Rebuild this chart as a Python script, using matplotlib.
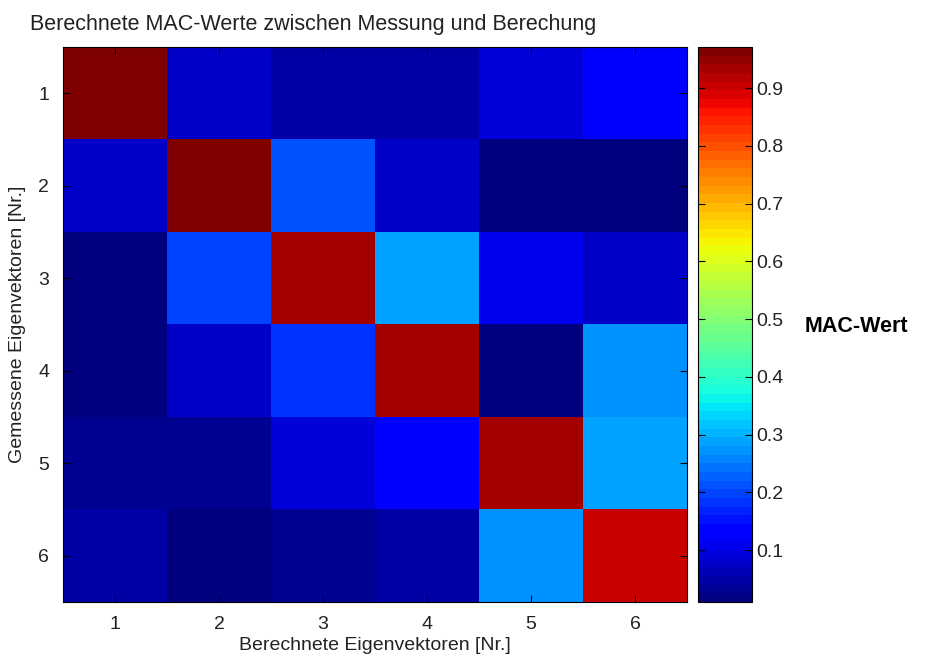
import numpy as np
import matplotlib
matplotlib.use('Agg')
import matplotlib.pyplot as plt

plt.rcParams['font.family'] = ['Liberation Sans', 'DejaVu Sans']

# MAC values, rows = gemessene, cols = berechnete Eigenvektoren
mac_values = [
    [0.970, 0.080, 0.045, 0.050, 0.092, 0.125],
    [0.082, 0.970, 0.209, 0.082, 0.010, 0.014],
    [0.014, 0.197, 0.934, 0.286, 0.101, 0.080],
    [0.016, 0.080, 0.185, 0.934, 0.012, 0.270],
    [0.038, 0.032, 0.092, 0.125, 0.934, 0.286],
    [0.055, 0.014, 0.030, 0.045, 0.276, 0.910],
]
modes = [1, 2, 3, 4, 5, 6]
cbar_ticks = [0.1, 0.2, 0.3, 0.4, 0.5, 0.6, 0.7, 0.8, 0.9]
vmin, vmax = 0.01, 0.971

W, H = 928, 662
fig = plt.figure(figsize=(W / 100, H / 100), dpi=100)
ax = fig.add_axes([63 / W, 1 - 602 / H, 624 / W, 555 / H])
cax = fig.add_axes([698 / W, 1 - 602 / H, 54 / W, 555 / H])

cmap = plt.get_cmap('jet', 64)
data = np.array(mac_values)
im = ax.imshow(data, cmap=cmap, vmin=vmin, vmax=vmax, aspect='auto',
               extent=[0.5, 6.5, 6.5, 0.5], interpolation='nearest')

ax.set_xticks(modes)
ax.set_yticks(modes)
ax.tick_params(direction='in', top=True, right=True, labelsize=14,
               length=5, colors='black', labelcolor='#222222')
ax.tick_params(axis='x', pad=10)
ax.tick_params(axis='y', pad=10)
ax.set_xlabel('Berechnete Eigenvektoren [Nr.]', fontsize=14, labelpad=3,
              color='#222222')
ax.set_ylabel('Gemessene Eigenvektoren [Nr.]', fontsize=14, labelpad=9,
              color='#222222')
fig.text(30 / W, 1 - 30 / H, 'Berechnete MAC-Werte zwischen Messung und Berechung',
         fontsize=15.5, ha='left', va='baseline', color='#222222')

cb = fig.colorbar(im, cax=cax, ticks=cbar_ticks)
cb.ax.tick_params(direction='in', left=True, right=True, labelsize=14,
                  length=5, labelcolor='#222222', pad=3)
cb.ax.set_yticklabels([str(t) for t in cbar_ticks])
cb.outline.set_linewidth(0.8)

fig.text(805 / W, 1 - 326 / H, 'MAC-Wert', fontsize=15.5, fontweight='bold',
         va='center', ha='left')

fig.savefig('out.png', dpi=100)
